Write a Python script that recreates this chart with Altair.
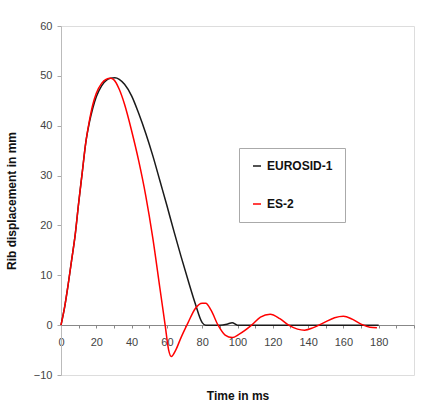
import altair as alt
import pandas as pd

# EUROSID-1 (black)
euro_t = [0, 2, 4, 6, 8, 10, 12, 14, 16, 18, 20, 23, 26, 28, 30.5, 33, 36, 40, 44, 48, 52, 56, 60, 64, 68, 72, 76, 80, 82, 90, 94, 97, 100, 110, 120, 140, 160, 180]
euro_v = [0, 3.5, 8, 13, 18, 24.5, 30.5, 36.5, 40.5, 43.5, 45.8, 48, 49.2, 49.5, 49.6, 49.3, 48.3, 46, 42.5, 38.5, 34, 29, 24, 18.8, 13.8, 9, 4.4, 0.5, 0, 0, 0.2, 0.5, 0, 0, 0, 0, 0, 0]

# ES-2 (red)
es2_t = [0, 2, 4, 6, 8, 10, 12, 14, 16, 18, 20, 23, 25.5, 28, 30, 33, 36, 40, 44, 48, 52, 56, 59, 61, 62.5, 65, 68, 72, 76, 80, 82, 85, 89, 93, 97, 101, 108, 113, 118.5, 124, 129, 134, 138, 143, 149, 155, 160, 165, 170, 175, 179]
es2_v = [0, 3.5, 8, 13, 18, 24.5, 30.5, 36.5, 40.8, 44.2, 46.5, 48.5, 49.3, 49.5, 49.2, 47.3, 44.3, 39, 33, 26, 17.5, 7.5, 0, -5, -6.3, -5, -2.5, 0.5, 3.3, 4.4, 4.4, 3, 0, -2, -2.5, -1.8, 0, 1.6, 2.2, 1.3, 0, -0.8, -1, -0.5, 0.5, 1.5, 1.8, 1.2, 0.2, -0.4, -0.5]

series_names = ["EUROSID-1", "ES-2"]
series_colors = ["#1a1a1a", "#ff0000"]

df = pd.concat([
    pd.DataFrame({"t": euro_t, "v": euro_v, "s": series_names[0], "o": range(len(euro_t))}),
    pd.DataFrame({"t": es2_t, "v": es2_v, "s": series_names[1], "o": range(len(es2_t))}),
])

FONT = "Liberation Sans"

x_ticks = list(range(0, 201, 10))
y_ticks = list(range(-10, 61, 10))

chart = alt.Chart(df).mark_line(interpolate="monotone", strokeWidth=1.5).encode(
    x=alt.X("t:Q", scale=alt.Scale(domain=[0, 200], nice=False),
            axis=alt.Axis(title="Time in ms", values=x_ticks,
                          labelExpr="(datum.value % 20 == 0 && datum.value < 200) ? datum.label : ''",
                          offset=-50, tickSize=3, labelPadding=8, grid=False, labelFlush=False,
                          domainColor="#888", tickColor="#888",
                          labelFont=FONT, labelFontSize=11, labelColor="#444",
                          titleFont=FONT, titleFontSize=12, titleFontWeight="bold", titleColor="#111",
                          titleY=70, titleBaseline="middle")),
    y=alt.Y("v:Q", scale=alt.Scale(domain=[-10, 60], nice=False),
            axis=alt.Axis(title="Rib displacement in mm", values=y_ticks, tickSize=4,
                          labelPadding=5, grid=False, domainColor="#bbb", tickColor="#aaa",
                          labelFont=FONT, labelFontSize=11, labelColor="#444",
                          titleFont=FONT, titleFontSize=12, titleFontWeight="bold", titleColor="#111",
                          titleX=-43)),
    color=alt.Color("s:N", scale=alt.Scale(domain=series_names, range=series_colors),
                    legend=alt.Legend(title=None, orient="none", legendX=178, legendY=122,
                                      symbolType="stroke", symbolSize=64, symbolStrokeWidth=1.5,
                                      labelFont=FONT, labelFontSize=12, labelFontWeight="bold",
                                      labelColor="#111", padding=12, rowPadding=26,
                                      strokeColor="#aaa", fillColor="white", labelOffset=4)),
    order="o:Q",
).properties(
    width=353, height=349,
    padding={"left": 61, "top": 26, "right": 10, "bottom": 31},
    autosize="none",
).configure_view(stroke="#bbb", strokeWidth=1).configure(background="white")

chart.save("out.html", embed_options={"renderer": "svg", "actions": False})
